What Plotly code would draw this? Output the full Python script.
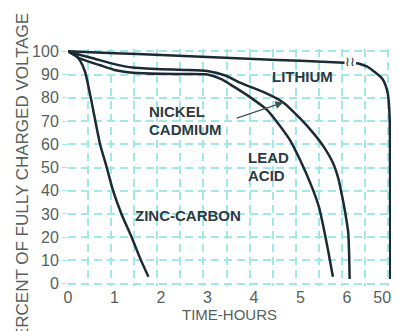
import plotly.graph_objects as go

# discharge curves, x in "axis hours" (last slot past the break = 50 h)
zinc_x = [0, 0.15, 0.26, 0.37, 0.49, 0.69, 0.82, 0.97, 1.15, 1.37, 1.55, 1.73]
zinc_y = [100, 98.5, 96, 91, 80, 60, 51, 40, 30, 20, 11, 3]

lead_x = [0, 0.25, 0.69, 1.0, 1.4, 2.0, 2.5, 3.0, 3.3, 3.55, 3.9, 4.27, 4.5, 4.77, 5.0, 5.24, 5.4, 5.49, 5.6, 5.7]
lead_y = [100, 97, 94, 92, 90.8, 90.3, 90.2, 90, 88, 85, 80.5, 75, 69.5, 62, 53, 42, 33, 25, 14, 3]

nicd_x = [0, 0.25, 0.54, 1.0, 1.4, 2.0, 2.5, 3.0, 3.4, 3.7, 4.2, 4.63, 5.0, 5.27, 5.5, 5.7, 5.82, 5.9, 5.97, 6.03, 6.05, 6.06]
nicd_y = [100, 98.5, 97, 94.5, 93, 92.3, 92, 91.5, 89.5, 86.5, 82.5, 78, 71, 65, 59, 52, 45, 37.5, 30, 22, 12, 2]

lith_x = [0, 1, 2, 3, 4, 5, 5.95, None, 6.2, 6.43, 6.77, 6.88, 6.92, 6.93, 6.935]
lith_y = [100, 99.2, 98.4, 97.6, 96.7, 95.9, 95.1, None, 95, 93.5, 88, 82, 72, 50, 2]

# "50" sits just inside the visible edge
x_ticks = [0, 1, 2, 3, 4, 5, 6, 6.76]
x_labels = ["0", "1", "2", "3", "4", "5", "6", "50"]
y_ticks = [0, 10, 20, 30, 40, 50, 60, 70, 80, 90, 100]

INK = "#1c2a35"
LABEL = "#2d3a44"
TICK = "#56615c"
GRID = "#a3e8e6"
FONT = "Liberation Sans, Arial, sans-serif"

fig = go.Figure()
for xs, ys in [(zinc_x, zinc_y), (lead_x, lead_y), (nicd_x, nicd_y), (lith_x, lith_y)]:
    fig.add_trace(go.Scatter(x=xs, y=ys, mode="lines", line=dict(color=INK, width=2.5, shape="spline", smoothing=0.6),
                             cliponaxis=False, showlegend=False, hoverinfo="skip"))

# text labels on the curves
labels = [
    ("LITHIUM", 4.34, 89.2),
    ("NICKEL", 1.70, 74),
    ("CADMIUM", 1.70, 66.4),
    ("LEAD", 3.83, 54.3),
    ("ACID", 3.83, 46.5),
    ("ZINC-CARBON", 1.40, 29.3),
]
for txt, x, y in labels:
    fig.add_annotation(x=x, y=y, text="<b>" + txt + "</b>", showarrow=False, xanchor="left",
                       font=dict(family=FONT, size=15, color=LABEL))

# arrow from NiCd label to its curve
fig.add_annotation(x=4.63, y=78, ax=3.6, ay=71, axref="x", ayref="y", text="",
                   showarrow=True, arrowhead=2, arrowsize=1.2, arrowwidth=1.3, arrowcolor="#3d5358")

# break marks on the lithium curve
fig.add_annotation(x=6.07, y=95.5, text="≀≀", showarrow=False, font=dict(size=13, color=INK))

# page has an 8px body margin, so the figure is shrunk to fit the window
fig.update_layout(
    width=391, height=323,
    margin=dict(l=60, r=8, t=41, b=45),
    paper_bgcolor="white", plot_bgcolor="white",
    font=dict(family=FONT, color=TICK),
    xaxis=dict(range=[0, 6.95], tickmode="array", tickvals=x_ticks, ticktext=x_labels,
               showgrid=False, zeroline=False, showline=False, ticks="", automargin=False,
               ticklabeloverflow="allow",
               tickfont=dict(size=16, color=TICK),
               title=dict(text="TIME-HOURS", font=dict(size=15, color=TICK), standoff=4),
               minor=dict(tickmode="linear", tick0=0.43, dtick=0.497, showgrid=True,
                          gridcolor=GRID, gridwidth=1.5, griddash="8px,5px")),
    yaxis=dict(range=[-1, 101], tickmode="array", tickvals=y_ticks, automargin=False,
               showgrid=True, gridcolor=GRID, gridwidth=1.5, griddash="8px,5px",
               zeroline=False, showline=False, ticks="outside", ticklen=5, tickcolor=GRID,
               tickfont=dict(size=16, color=TICK)),
)

fig.add_annotation(x=-0.176, y=0.44, xref="paper", yref="paper", text="PERCENT OF FULLY CHARGED VOLTAGE",
                   showarrow=False, textangle=-90, font=dict(family=FONT, size=17, color=TICK))

fig.write_html("out.html")
